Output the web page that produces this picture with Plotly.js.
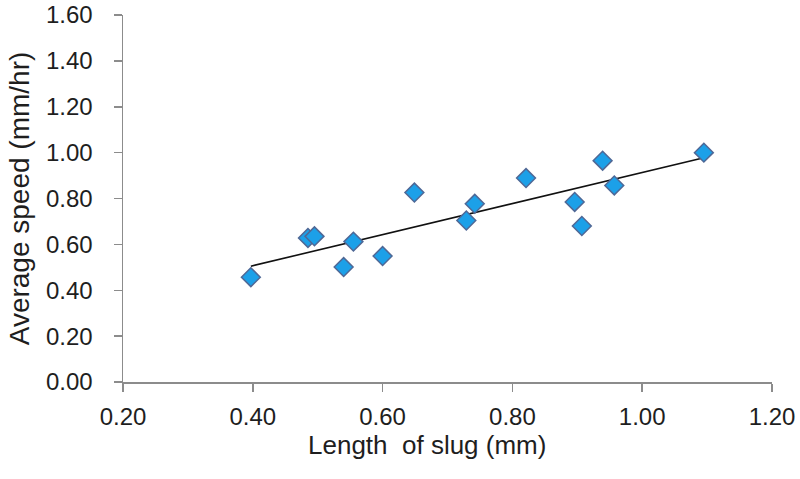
<!DOCTYPE html>
<html>
<head>
<meta charset="utf-8">
<script src="https://cdn.plot.ly/plotly-3.0.1.min.js"></script>
<style>html,body{margin:0;padding:0;background:#fff;}#chart{width:800px;height:479px;}</style>
</head>
<body>
<div id="chart"></div>
<script>
// Data
const slugLength = [0.397, 0.485, 0.495, 0.540, 0.555, 0.600, 0.649, 0.729, 0.742, 0.821, 0.896, 0.907, 0.939, 0.957, 1.095];
const avgSpeed   = [0.457, 0.628, 0.635, 0.501, 0.612, 0.549, 0.826, 0.704, 0.777, 0.889, 0.785, 0.680, 0.965, 0.857, 1.000];
const trendX = [0.397, 1.095];
const trendY = [0.505, 0.978];
const xTicks = [0.2, 0.4, 0.6, 0.8, 1.0, 1.2];
const yTicks = [0, 0.2, 0.4, 0.6, 0.8, 1.0, 1.2, 1.4, 1.6];

const font = '"Liberation Sans", Arial, sans-serif';

const traces = [
  {
    x: trendX, y: trendY, type: 'scatter', mode: 'lines',
    line: {color: '#111111', width: 1.6}, hoverinfo: 'skip', showlegend: false
  },
  {
    x: slugLength, y: avgSpeed, type: 'scatter', mode: 'markers',
    marker: {symbol: 'diamond', size: 14.5, color: '#1CA0E8', line: {color: '#4F6896', width: 1.5}},
    showlegend: false
  }
];

const layout = {
  width: 800, height: 479,
  margin: {l: 123, r: 28, t: 15, b: 97},
  paper_bgcolor: '#ffffff', plot_bgcolor: '#ffffff',
  font: {family: font, color: '#1e1e1e'},
  showlegend: false,
  xaxis: {
    range: [0.2, 1.2], tickvals: xTicks, ticktext: xTicks.map(v => v.toFixed(2)),
    showgrid: false, zeroline: false, showline: true, linecolor: '#8c8c8c', linewidth: 1.5,
    ticks: 'outside', ticklen: 8, tickcolor: '#8c8c8c', tickwidth: 1.5,
    tickfont: {size: 24, family: font, color: '#1e1e1e'},
    ticklabelstandoff: 5
  },
  yaxis: {
    range: [0, 1.6], tickvals: yTicks, ticktext: yTicks.map(v => v.toFixed(2)),
    showgrid: false, zeroline: false, showline: true, linecolor: '#8c8c8c', linewidth: 1.5,
    ticks: 'outside', ticklen: 8, tickcolor: '#8c8c8c', tickwidth: 1.5,
    tickfont: {size: 24, family: font, color: '#1e1e1e'},
    ticklabelstandoff: 16,
    title: {text: 'Average speed (mm/hr)', font: {size: 28, family: font, color: '#1e1e1e'}, standoff: 8}
  },
  annotations: [{
    text: 'Length\u00a0\u00a0of slug (mm)', xref: 'paper', yref: 'paper',
    x: 0.469, y: -0.172, xanchor: 'center', yanchor: 'middle', showarrow: false,
    font: {size: 26, family: font, color: '#1e1e1e'}
  }]
};

Plotly.newPlot('chart', traces, layout, {displayModeBar: false, staticPlot: true});
</script>
</body>
</html>
